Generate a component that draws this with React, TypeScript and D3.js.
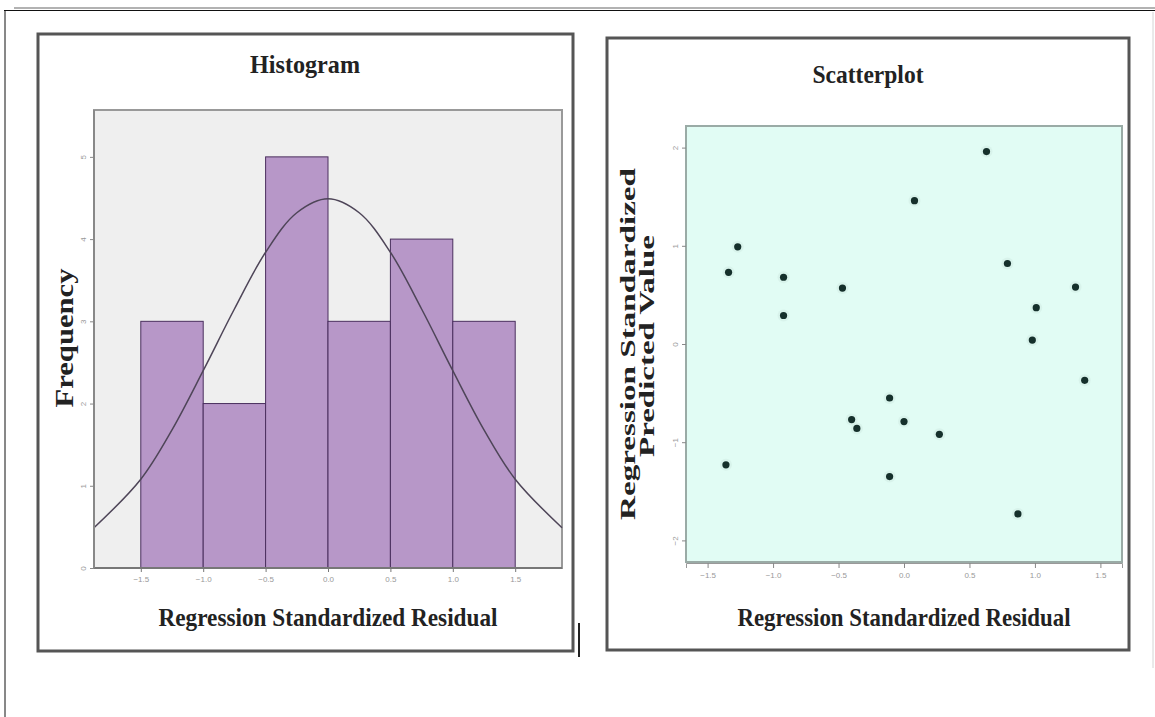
import React, { useEffect, useRef } from 'react';
import * as d3 from 'd3';

// histogram bins (residual ranges) and counts
const binEdges = [-1.5, -1.0, -0.5, 0.0, 0.5, 1.0, 1.5];
const binCounts = [3, 2, 5, 3, 4, 3];

// normal curve
const curveX = [-1.875, -1.5, -1.25, -1.0, -0.75, -0.5, -0.25, 0, 0.25, 0.5, 0.75, 1.0, 1.25, 1.5, 1.875];
const curveY = [0.49, 1.08, 1.68, 2.4, 3.15, 3.84, 4.32, 4.49, 4.32, 3.84, 3.15, 2.4, 1.68, 1.08, 0.49];

// scatterplot: standardized residual vs standardized predicted value
const residuals = [0.63, 0.08, -1.27, -1.34, -0.92, -0.47, -0.92, 0.79, 1.31, 1.01, 0.98, 1.38, -0.11, -0.4, -0.36, 0.0, 0.27, -1.36, -0.11, 0.87];
const predicted = [1.96, 1.46, 0.99, 0.73, 0.68, 0.57, 0.29, 0.82, 0.58, 0.37, 0.04, -0.37, -0.55, -0.77, -0.86, -0.79, -0.92, -1.23, -1.35, -1.73];

const residualTicks = [-1.5, -1.0, -0.5, 0.0, 0.5, 1.0, 1.5];
const frequencyTicks = [0, 1, 2, 3, 4, 5];
const predictedTicks = [-2, -1, 0, 1, 2];

const serif = '"Liberation Serif", "Times New Roman", serif';

export default function App() {
	const ref = useRef<SVGSVGElement>(null);

	useEffect(() => {
		const svg = d3.select(ref.current);
		svg.selectAll('*').remove();

		// page frame
		svg.append('line').attr('x1', 14).attr('x2', 1155).attr('y1', 8).attr('y2', 8).attr('stroke', '#999').attr('stroke-width', 1.5);
		svg.append('line').attr('x1', 4).attr('x2', 1155).attr('y1', 10.5).attr('y2', 10.5).attr('stroke', '#111').attr('stroke-width', 1);
		svg.append('line').attr('x1', 5).attr('x2', 5).attr('y1', 10).attr('y2', 717).attr('stroke', '#111').attr('stroke-width', 1);
		svg.append('line').attr('x1', 1153).attr('x2', 1153).attr('y1', 12).attr('y2', 668).attr('stroke', '#d4d4d4').attr('stroke-width', 1);
		svg.append('line').attr('x1', 579).attr('x2', 579).attr('y1', 623).attr('y2', 657).attr('stroke', '#222').attr('stroke-width', 2);

		// ---------- Histogram ----------
		const h = svg.append('g');
		h.append('rect').attr('x', 38).attr('y', 34).attr('width', 535).attr('height', 617)
			.attr('fill', '#fff').attr('stroke', '#555').attr('stroke-width', 3);
		h.append('text').attr('x', 305).attr('y', 73).attr('text-anchor', 'middle')
			.attr('font-family', serif).attr('font-weight', 'bold').attr('font-size', 25).attr('fill', '#222')
			.attr('textLength', 110).attr('lengthAdjust', 'spacingAndGlyphs')
			.text('Histogram');

		const hx = d3.scaleLinear().domain([-1.875, 1.875]).range([94, 562]);
		const hy = d3.scaleLinear().domain([0, 5.57]).range([568, 110]);

		h.append('rect').attr('x', 94).attr('y', 110).attr('width', 468).attr('height', 458)
			.attr('fill', '#efefef').attr('stroke', '#999').attr('stroke-width', 2);

		const bins = binCounts.map((c, i) => ({ x0: binEdges[i], x1: binEdges[i + 1], count: c }));
		h.selectAll('rect.bar').data(bins).enter().append('rect').attr('class', 'bar')
			.attr('x', d => hx(d.x0))
			.attr('y', d => hy(d.count))
			.attr('width', d => hx(d.x1) - hx(d.x0))
			.attr('height', d => hy(0) - hy(d.count))
			.attr('fill', '#b797c8')
			.attr('stroke', '#4a2f5e')
			.attr('stroke-width', 1);

		const curvePts = curveX.map((x, i) => [x, curveY[i]] as [number, number]);
		const normal = d3.line<[number, number]>().x(d => hx(d[0])).y(d => hy(d[1])).curve(d3.curveCatmullRom);
		h.append('path').datum(curvePts).attr('d', normal).attr('fill', 'none').attr('stroke', '#4e4558').attr('stroke-width', 1.5);

		// axes
		h.append('line').attr('x1', 94).attr('x2', 562).attr('y1', 568).attr('y2', 568).attr('stroke', '#777').attr('stroke-width', 2);
		h.append('line').attr('x1', 94).attr('x2', 94).attr('y1', 110).attr('y2', 568).attr('stroke', '#888').attr('stroke-width', 2);

		const hxAxis = d3.axisBottom(hx).tickValues(residualTicks).tickSize(4).tickFormat(d3.format('.1f'));
		const gx = h.append('g').attr('transform', 'translate(0,568)').call(hxAxis);
		gx.select('.domain').remove();
		gx.selectAll('line').attr('stroke', '#777');
		gx.selectAll('text').attr('fill', '#999').attr('font-size', 8).attr('font-family', 'Arial, sans-serif').attr('dy', '0.9em');

		const hyAxis = d3.axisLeft(hy).tickValues(frequencyTicks).tickSize(4).tickFormat(d3.format('d'));
		const gy = h.append('g').attr('transform', 'translate(94,0)').call(hyAxis);
		gy.select('.domain').remove();
		gy.selectAll('line').attr('stroke', '#888');
		gy.selectAll('text').attr('fill', '#999').attr('font-size', 8).attr('font-family', 'Arial, sans-serif')
			.attr('x', 0).attr('dy', 0).attr('text-anchor', 'middle')
			.attr('transform', 'translate(-8,0) rotate(-90)');

		h.append('text').attr('x', 328).attr('y', 626).attr('text-anchor', 'middle')
			.attr('font-family', serif).attr('font-weight', 'bold').attr('font-size', 25).attr('fill', '#222')
			.attr('textLength', 339).attr('lengthAdjust', 'spacingAndGlyphs')
			.text('Regression Standardized Residual');
		h.append('text').attr('transform', 'translate(73,338) rotate(-90)').attr('text-anchor', 'middle')
			.attr('font-family', serif).attr('font-weight', 'bold').attr('font-size', 26).attr('fill', '#222')
			.attr('textLength', 139).attr('lengthAdjust', 'spacingAndGlyphs')
			.text('Frequency');

		// ---------- Scatterplot ----------
		const s = svg.append('g');
		s.append('rect').attr('x', 607).attr('y', 38).attr('width', 522).attr('height', 612)
			.attr('fill', '#fff').attr('stroke', '#555').attr('stroke-width', 3);
		s.append('text').attr('x', 868).attr('y', 83).attr('text-anchor', 'middle')
			.attr('font-family', serif).attr('font-weight', 'bold').attr('font-size', 25).attr('fill', '#222')
			.attr('textLength', 111).attr('lengthAdjust', 'spacingAndGlyphs')
			.text('Scatterplot');

		const sx = d3.scaleLinear().domain([-1.665, 1.665]).range([686, 1122]);
		const sy = d3.scaleLinear().domain([-2.22, 2.22]).range([562, 126]);

		s.append('rect').attr('x', 686).attr('y', 126).attr('width', 436).attr('height', 436)
			.attr('fill', '#e1fcf4').attr('stroke', '#9aaba6').attr('stroke-width', 2);

		const sxAxis = d3.axisBottom(sx).tickValues(residualTicks).tickSize(5).tickFormat(d3.format('.1f'));
		const sgx = s.append('g').attr('transform', 'translate(0,563)').call(sxAxis);
		sgx.select('.domain').attr('stroke', '#999');
		sgx.selectAll('line').attr('stroke', '#888');
		sgx.selectAll('text').attr('fill', '#999').attr('font-size', 8).attr('font-family', 'Arial, sans-serif').attr('dy', '0.9em');

		const syAxis = d3.axisLeft(sy).tickValues(predictedTicks).tickSize(4).tickFormat(d3.format('d'));
		const sgy = s.append('g').attr('transform', 'translate(686,0)').call(syAxis);
		sgy.select('.domain').remove();
		sgy.selectAll('line').attr('stroke', '#888');
		sgy.selectAll('text').attr('fill', '#999').attr('font-size', 8).attr('font-family', 'Arial, sans-serif')
			.attr('x', 0).attr('dy', 0).attr('text-anchor', 'middle')
			.attr('transform', 'translate(-8,0) rotate(-90)');

		const pts = residuals.map((r, i) => ({ r, p: predicted[i] }));
		s.selectAll('circle.halo').data(pts).enter().append('circle').attr('class', 'halo')
			.attr('cx', d => sx(d.r)).attr('cy', d => sy(d.p)).attr('r', 6).attr('fill', '#d2ece5').attr('opacity', 0.6);
		s.selectAll('circle.pt').data(pts).enter().append('circle').attr('class', 'pt')
			.attr('cx', d => sx(d.r)).attr('cy', d => sy(d.p)).attr('r', 3.6).attr('fill', '#15302b');

		s.append('text').attr('x', 904).attr('y', 626).attr('text-anchor', 'middle')
			.attr('font-family', serif).attr('font-weight', 'bold').attr('font-size', 25).attr('fill', '#222')
			.attr('textLength', 333).attr('lengthAdjust', 'spacingAndGlyphs')
			.text('Regression Standardized Residual');
		s.append('text').attr('transform', 'translate(635,344) rotate(-90)').attr('text-anchor', 'middle')
			.attr('font-family', serif).attr('font-weight', 'bold').attr('font-size', 21).attr('fill', '#222')
			.attr('textLength', 352).attr('lengthAdjust', 'spacingAndGlyphs')
			.text('Regression Standardized');
		s.append('text').attr('transform', 'translate(654,346) rotate(-90)').attr('text-anchor', 'middle')
			.attr('font-family', serif).attr('font-weight', 'bold').attr('font-size', 21).attr('fill', '#222')
			.attr('textLength', 222).attr('lengthAdjust', 'spacingAndGlyphs')
			.text('Predicted Value');
	}, []);

	return (
		<svg ref={ref} width={1155} height={717} style={{ position: 'absolute', left: 0, top: 0, background: '#fff' }} />
	);
}
